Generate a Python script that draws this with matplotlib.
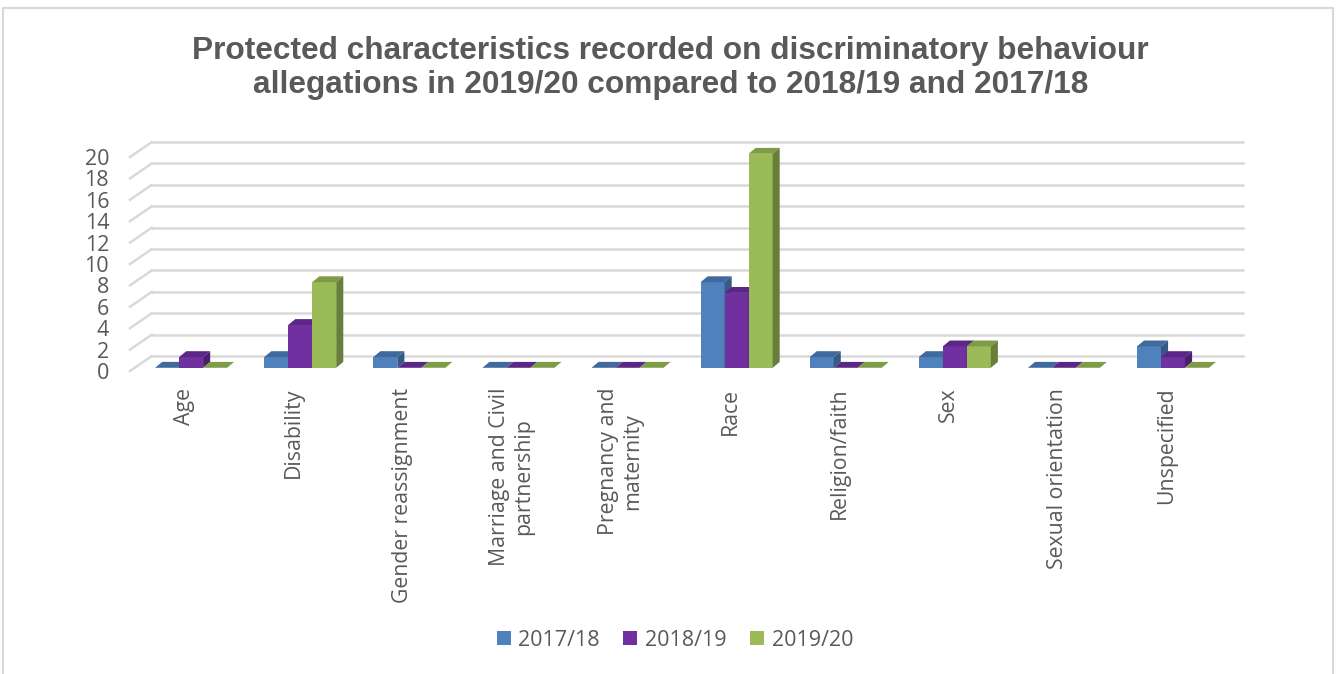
import matplotlib
matplotlib.use("Agg")
import matplotlib.pyplot as plt
from matplotlib.patches import Polygon, Rectangle, Patch
import numpy as np

categories = ["Age", "Disability", "Gender reassignment", "Marriage and Civil\npartnership",
              "Pregnancy and\nmaternity", "Race", "Religion/faith", "Sex",
              "Sexual orientation", "Unspecified"]
series_names = ["2017/18", "2018/19", "2019/20"]
v_2017 = [0, 1, 1, 0, 0, 8, 1, 1, 0, 2]
v_2018 = [1, 4, 0, 0, 0, 7, 0, 2, 0, 1]
v_2019 = [0, 8, 0, 0, 0, 20, 0, 2, 0, 0]
yticks = list(range(0, 21, 2))

front_cols = ["#4F81BD", "#7030A0", "#9BBB59"]
top_cols = ["#3F6A9E", "#5C2686", "#7E9B48"]
side_cols = ["#355A86", "#4B1F6D", "#677F3A"]
grey = "#595959"
gridc = "#d9d9d9"

W, H = 1341, 674
fig = plt.figure(figsize=(W / 100, H / 100), dpi=100)
ax = fig.add_axes([130 / W, (H - 371) / H, (1221 - 130) / W, (371 - 157) / H])
ax.set_xlim(-0.5, len(categories) - 0.5)
ax.set_ylim(0, 20)
for s in ax.spines.values():
    s.set_visible(False)

# depth offsets in data units (wall and bars)
wdx, wdy = 0.2, 1.4
bdx, bdy = 0.065, 0.55
box, boy = 0.06, 0.3

# back wall gridlines with diagonal at the left
for y in yticks:
    ax.plot([-0.5 + wdx, len(categories) - 0.5 + wdx], [y + wdy, y + wdy],
            color=gridc, lw=1.8, clip_on=False, zorder=1)
    ax.plot([-0.5, -0.5 + wdx], [y, y + wdy], color=gridc, lw=1.8,
            clip_on=False, zorder=1)

bw = 0.22
x = np.arange(len(categories))
data = [v_2017, v_2018, v_2019]
for j, vals in enumerate(data):
    for i, v in enumerate(vals):
        xl = x[i] - 1.5 * bw + j * bw + box
        xr = xl + bw
        z = 3 + j
        ax.bar(xl, v, width=bw, bottom=boy, align="edge", color=front_cols[j],
               lw=0, clip_on=False, zorder=z)
        top = [(xl, v + boy), (xr, v + boy), (xr + bdx, v + boy + bdy), (xl + bdx, v + boy + bdy)]
        ax.add_patch(Polygon(top, closed=True, fc=top_cols[j], lw=0, clip_on=False, zorder=z))
        if v > 0:
            side = [(xr, boy), (xr, v + boy), (xr + bdx, v + boy + bdy), (xr + bdx, boy + bdy)]
            ax.add_patch(Polygon(side, closed=True, fc=side_cols[j], lw=0, clip_on=False, zorder=z))

ax.set_yticks(yticks)
ax.set_yticklabels([str(t) for t in yticks], fontsize=15.5, color=grey, family="Open Sans")
ax.set_xticks(x)
ax.set_xticklabels(categories, rotation=90, fontsize=15.3, color=grey, family="Open Sans",
                   ha="center", va="top", multialignment="center")
ax.tick_params(axis="y", length=0, pad=15)
ax.tick_params(axis="x", length=0, pad=12)

fig.text(0.5, 1 - 68 / H, "Protected characteristics recorded on discriminatory behaviour\n"
         "allegations in 2019/20 compared to 2018/19 and 2017/18",
         ha="center", va="center", fontsize=22.8, fontweight="bold", color=grey,
         family="Liberation Sans", linespacing=1.18)

handles = [Patch(fc=c, ec="none") for c in front_cols]
leg = fig.legend(handles, series_names, loc="center", bbox_to_anchor=(675 / W, 1 - 640 / H),
                 ncol=3, frameon=False, handlelength=0.65, handleheight=0.65,
                 handletextpad=0.35, columnspacing=1.1,
                 prop={"family": "Open Sans", "size": 15.5})
for t in leg.get_texts():
    t.set_color(grey)

fig.patches.append(Rectangle((3 / W, -0.02), (1333 - 3) / W, 1 - 8 / H + 0.02,
                             transform=fig.transFigure, fill=False, ec=gridc, lw=1.5))

fig.savefig("out.png", dpi=100)
